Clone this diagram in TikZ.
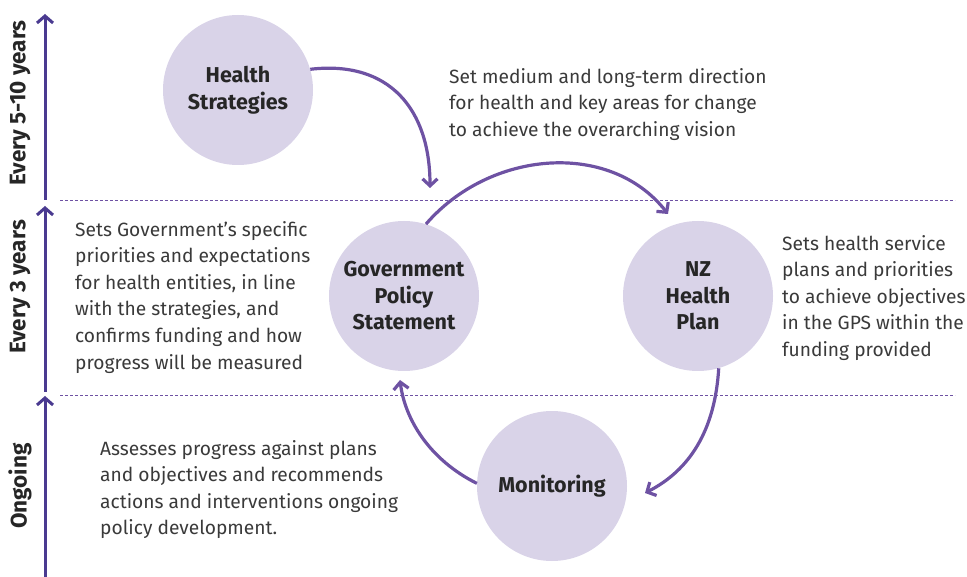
\documentclass[tikz,border=0pt]{standalone}
\usepackage{fontspec}
\setmainfont{Fira Sans}
\usepackage{tikz}
\usetikzlibrary{positioning,arrows.meta}
\definecolor{lavender}{HTML}{D9D3E8}
\definecolor{cyclepurple}{HTML}{6E52A3}
\definecolor{axisblue}{HTML}{4A3A90}
\definecolor{bodytext}{HTML}{3A3A3A}

\begin{document}
\begin{tikzpicture}[
    x=1pt, y=-1pt,
    stage/.style={
        circle, fill=lavender, minimum size=150pt, inner sep=0pt,
        font=\fontsize{21.5}{26.5}\selectfont\bfseries, text=black!85,
        align=center
    },
    note/.style={
        anchor=north west, inner sep=0pt, align=left,
        font=\fontsize{19.2}{26.6}\selectfont, text=bodytext
    },
    period/.style={rotate=90, font=\fontsize{22.5}{24}\selectfont\bfseries,
        text=black!85},
    cycle/.style={-{Straight Barb[length=7pt,width=15pt]}, line width=3.2pt,
        draw=cyclepurple},
    axis/.style={-{Straight Barb[length=7pt,width=16pt]}, line width=3pt,
        draw=axisblue},
    divider/.style={draw=cyclepurple, densely dashed, line width=0.8pt}
]
\useasboundingbox (0,0) rectangle (967,577);

% Time axis on the left
\coordinate (a0) at (45,577);
\coordinate (a1) at (45,392);
\coordinate (a2) at (45,200);
\coordinate (a3) at (45,14);
\draw[axis] (a0) -- (45,396);
\draw[axis] (a1) -- (45,206);
\draw[axis] (a2) -- (a3);

\node[period] (longterm) at (20,103) {Every 5-10 years};
\node[period] (midterm) at (20,287) {Every 3 years};
\node[period] (ongoing) at (20,486) {Ongoing};

% Dividers between the time bands
\coordinate (d1w) at (60,200);
\coordinate (d1e) at (955,200);
\coordinate (d2w) at (60,395);
\coordinate (d2e) at (955,395);
\draw[divider] (d1w) -- (d1e);
\draw[divider] (d2w) -- (d2e);

% Stages of the cycle
\node[stage] (strat) at (238,90) {Health\\Strategies};
\node[stage] (gps) at (404,296) {Government\\Policy\\Statement};
\node[stage] (plan) at (698,296) {NZ\\Health\\Plan};
\node[stage] (monitor) at (552,486) {Monitoring};

% Descriptions
\node[note] (stratnote) at (449,68)
    {Set medium and long-term direction\\
     for health and key areas for change\\
     to achieve the overarching vision};
\node[note] (gpsnote) at (75,221)
    {Sets Government's specific\\
     priorities and expectations\\
     for health entities, in line\\
     with the strategies, and\\
     confirms funding and how\\
     progress will be measured};
\node[note] (plannote) at (782,235)
    {Sets health service\\
     plans and priorities\\
     to achieve objectives\\
     in the GPS within the\\
     funding provided};
\node[note] (monnote) at (100,440)
    {Assesses progress against plans\\
     and objectives and recommends\\
     actions and interventions ongoing\\
     policy development.};

% Arrows around the cycle
\draw[cycle] (strat.16) .. controls (390,60) and (430,110) .. (430,188);
\draw[cycle] (gps.73) .. controls (490,150) and (610,140) .. (668,214);
\draw[cycle] (plan.-74) .. controls (715,430) and (690,470) .. (645,493);
\draw[cycle] (monitor.178) .. controls (430,460) and (405,420) .. (400,380);

\end{tikzpicture}
\end{document}
